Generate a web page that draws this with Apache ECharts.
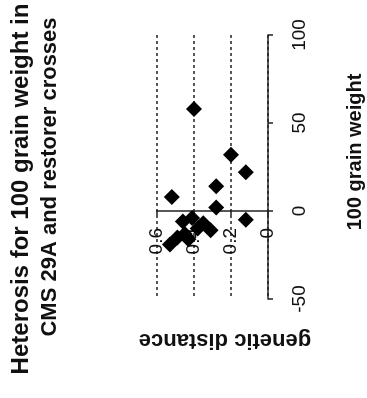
<!DOCTYPE html>
<html>
<head>
<meta charset="utf-8">
<script src="https://cdn.jsdelivr.net/npm/echarts@6/dist/echarts.min.js"></script>
<style>
  html, body { margin: 0; padding: 0; background: #fff; }
  #chart { width: 367px; height: 398px; }
</style>
</head>
<body>
<div id="chart"></div>
<script>
// Genetic distance of each cross and its heterosis (%) for 100 grain weight
const geneticDistance = [0.40, 0.20, 0.12, 0.28, 0.52, 0.28, 0.12,
                         0.41, 0.46, 0.35, 0.31, 0.38, 0.45, 0.49, 0.53, 0.43];
const heterosis = [58, 32, 22, 14, 8, 2, -5,
                   -4, -6, -7, -11, -10, -13, -15, -19, -16];

const distanceTicks = [0, 0.2, 0.4, 0.6];
const heterosisTicks = [-50, 0, 50, 100];

const titleLines = ['Heterosis for 100 grain weight in', 'CMS 29A and restorer crosses'];
const xName = 'genetic distance';
const yName = '100 grain weight';

const points = geneticDistance.map((d, i) => [d, heterosis[i]]);
const font = 'Liberation Sans, Arial, sans-serif';

const chart = echarts.init(document.getElementById('chart'));
chart.setOption({
  backgroundColor: '#fff',
  animation: false,
  grid: { left: 157, top: 35, width: 111, height: 264, containLabel: false },
  xAxis: {
    type: 'value',
    inverse: true,
    min: distanceTicks[0],
    max: distanceTicks[distanceTicks.length - 1],
    interval: 0.2,
    axisLine: { onZero: true, lineStyle: { color: '#222', width: 1.5 } },
    axisTick: { show: true, length: 4, lineStyle: { color: '#222', width: 1.5 } },
    axisLabel: {
      rotate: 90, margin: -71, color: '#111', fontSize: 19, fontFamily: font,
      formatter: v => String(+v.toFixed(1))
    },
    splitLine: { show: true, lineStyle: { color: '#222', type: [3, 3], width: 1.5 } }
  },
  yAxis: {
    type: 'value',
    position: 'right',
    min: heterosisTicks[0],
    max: heterosisTicks[heterosisTicks.length - 1],
    interval: 50,
    axisLine: { show: true, onZero: false, lineStyle: { color: '#222', width: 1.5 } },
    axisTick: { show: true, length: 5, lineStyle: { color: '#222', width: 1.5 } },
    axisLabel: { rotate: 90, margin: 22, color: '#111', fontSize: 19, fontFamily: font },
    splitLine: { show: false }
  },
  series: [{
    type: 'scatter',
    symbol: 'diamond',
    symbolSize: 16,
    itemStyle: { color: '#000', opacity: 1 },
    data: points
  }],
  graphic: [
    { type: 'text', x: 21, y: 189, rotation: Math.PI / 2,
      style: { text: titleLines[0], font: 'bold 24px ' + font, fill: '#111', align: 'center', verticalAlign: 'middle' } },
    { type: 'text', x: 50, y: 177, rotation: Math.PI / 2,
      style: { text: titleLines[1], font: 'bold 22px ' + font, fill: '#111', align: 'center', verticalAlign: 'middle' } },
    { type: 'text', x: 355, y: 152, rotation: Math.PI / 2,
      style: { text: yName, font: 'bold 20px ' + font, fill: '#111', align: 'center', verticalAlign: 'middle' } },
    { type: 'text', x: 225, y: 340, rotation: Math.PI,
      style: { text: xName, font: 'bold 22px ' + font, fill: '#111', align: 'center', verticalAlign: 'middle' } }
  ]
});
</script>
</body>
</html>
